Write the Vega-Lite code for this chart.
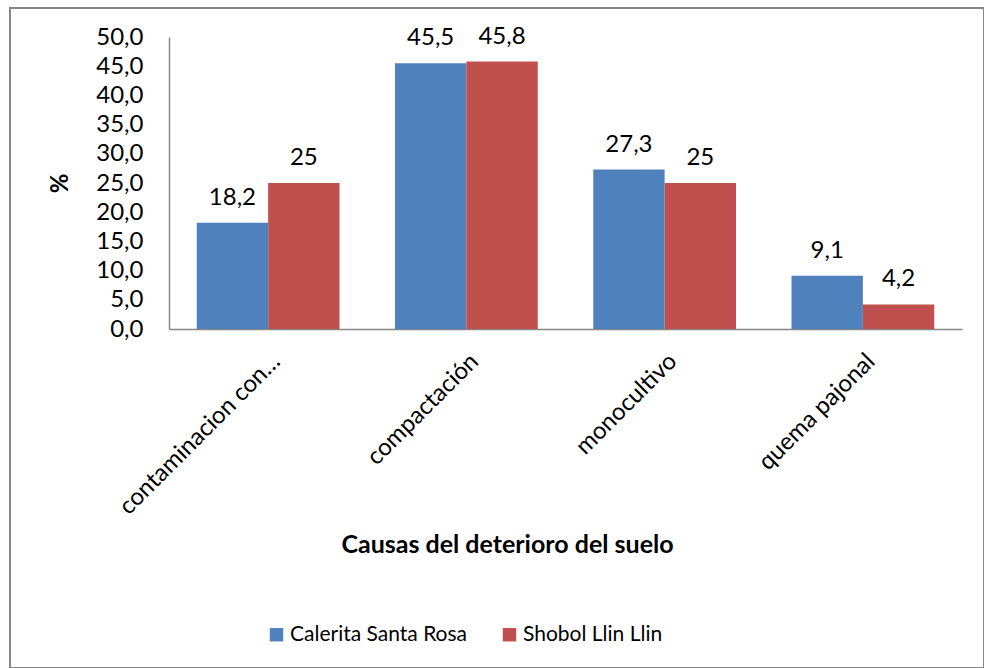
{
  "$schema": "https://vega.github.io/schema/vega-lite/v6.json",
  "width": 974,
  "height": 660,
  "autosize": {"type": "none"},
  "padding": {"left": 10, "top": 8, "right": 0, "bottom": 0},
  "background": "white",
  "config": {
    "locale": {"number": {"decimal": ",", "thousands": ".", "grouping": [3], "currency": ["", " €"]}},
    "font": "Lato",
    "view": {"stroke": "#868686", "strokeWidth": 2},
    "axis": {"grid": false, "ticks": false, "tickSize": 0, "domainColor": "#868686", "domainWidth": 1.5, "labelFont": "Lato", "labelFontSize": 24, "labelColor": "#000000", "titleFont": "Lato", "titleColor": "#000000", "labelLimit": 500}
  },
  "data": {
    "values": [
      {"causa": "contaminacion con…", "serie": "Calerita Santa Rosa", "valor": 18.2},
      {"causa": "contaminacion con…", "serie": "Shobol Llin Llin", "valor": 25},
      {"causa": "compactación", "serie": "Calerita Santa Rosa", "valor": 45.5},
      {"causa": "compactación", "serie": "Shobol Llin Llin", "valor": 45.8},
      {"causa": "monocultivo", "serie": "Calerita Santa Rosa", "valor": 27.3},
      {"causa": "monocultivo", "serie": "Shobol Llin Llin", "valor": 25},
      {"causa": "quema pajonal", "serie": "Calerita Santa Rosa", "valor": 9.1},
      {"causa": "quema pajonal", "serie": "Shobol Llin Llin", "valor": 4.2}
    ]
  },
  "encoding": {
    "x": {
      "field": "causa", "type": "nominal", "sort": null,
      "scale": {"range": [159, 952], "paddingInner": 0.28, "paddingOuter": 0.14},
      "axis": {
        "offset": -339, "labelAngle": -45, "labelPadding": 20, "labelFontSize": 24,
        "title": "Causas del deterioro del suelo", "titleFontWeight": "bold", "titleFontSize": 25,
        "titleX": 497, "titleY": 215, "titleAlign": "center", "titleBaseline": "middle"
      }
    },
    "xOffset": {"field": "serie", "type": "nominal", "sort": ["Calerita Santa Rosa", "Shobol Llin Llin"]},
    "y": {
      "field": "valor", "type": "quantitative",
      "scale": {"domain": [0, 50], "range": [321, 29], "nice": false, "zero": true},
      "axis": {
        "offset": -159, "values": [0, 5, 10, 15, 20, 25, 30, 35, 40, 45, 50], "format": ".1f", "labelPadding": 26,
        "title": "%", "titleFontWeight": "bold", "titleFontSize": 24,
        "titleX": -109, "titleY": 175, "titleAlign": "center", "titleBaseline": "middle", "titleAngle": -90
      }
    }
  },
  "layer": [
    {
      "mark": {"type": "bar"},
      "encoding": {
        "color": {
          "field": "serie", "type": "nominal",
          "scale": {"domain": ["Calerita Santa Rosa", "Shobol Llin Llin"], "range": ["#4F81BD", "#C0504D"]},
          "legend": {
            "orient": "none", "legendX": 256, "legendY": 616, "direction": "horizontal", "title": null,
            "symbolType": "square", "symbolSize": 180, "symbolStrokeWidth": 0, "labelLimit": 500,
            "labelFont": "Lato", "labelFontSize": 21, "labelColor": "#000000", "columnPadding": 31, "labelOffset": 3
          }
        }
      }
    },
    {
      "mark": {"type": "text", "dy": -18, "baseline": "alphabetic", "fontSize": 24, "color": "#000000"},
      "encoding": {
        "text": {"field": "valor", "type": "quantitative", "format": "~g"}
      }
    }
  ]
}
